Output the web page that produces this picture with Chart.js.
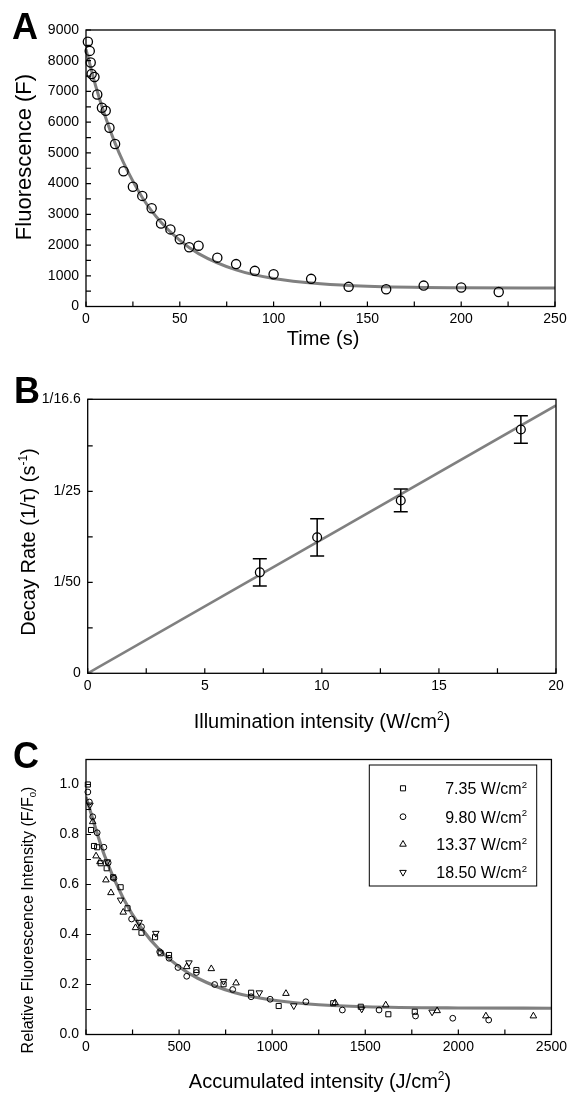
<!DOCTYPE html>
<html>
<head>
<meta charset="utf-8">
<script src="https://cdn.jsdelivr.net/npm/chart.js@4.4.1/dist/chart.umd.min.js"></script>
<style>
html,body{margin:0;padding:0;background:#fff;}
#wrap{position:relative;width:571px;height:1095px;background:#fff;}
#wrap canvas{position:absolute;left:0;top:0;}
</style>
</head>
<body>
<div id="wrap">
<canvas id="cA" width="571" height="1095"></canvas>
<canvas id="cB" width="571" height="1095"></canvas>
<canvas id="cC" width="571" height="1095"></canvas>
</div>
<script>
// ---------------- Panel A data ----------------
const aTime  = [1, 2, 2.5, 3, 4.5, 6, 8.5, 10.5, 12.5, 15.5, 20, 25, 30, 35, 40, 45, 50, 55, 60, 70, 80, 90, 100, 120, 140, 160, 180, 200, 220];
const aFluor = [8620, 8320, 7940, 7570, 7470, 6900, 6470, 6370, 5820, 5290, 4400, 3900, 3600, 3200, 2700, 2510, 2190, 1930, 1980, 1590, 1380, 1160, 1050, 900, 640, 560, 680, 620, 470];
const aFitTime  = [0, 5, 10, 15, 20, 30, 40, 50, 60, 80, 100, 125, 150, 200, 250];
const aFitFluor = [8370, 7210, 6230, 5390, 4680, 3550, 2740, 2150, 1720, 1190, 910, 740, 660, 610, 600];
const aXTitle = 'Time (s)';
const aYTitle = 'Fluorescence (F)';

// ---------------- Panel B data ----------------
const bIntensity = [7.35, 9.80, 13.37, 18.50];
const bRate      = [0.0222, 0.0299, 0.0380, 0.0536];
const bRateErr   = [0.0030, 0.0041, 0.0025, 0.0030];
const bFitX = [0, 20];
const bFitY = [0, 0.0589];
const bYTickValues = [0, 1/50, 1/25, 1/16.6];
const bYTickLabels = ['0', '1/50', '1/25', '1/16.6'];
const bYMinorTicks = [0.01, 0.03, 0.05];
const bXTitle = 'Illumination intensity (W/cm^{2})';
const bYTitle = 'Decay Rate (1/\u03c4) (s^{-1})';

// ---------------- Panel C data ----------------
const cLegendLabels = ['7.35 W/cm^{2}', '9.80 W/cm^{2}', '13.37 W/cm^{2}', '18.50 W/cm^{2}'];
const cSquareX = [10, 27, 43, 60, 79, 111, 146, 186, 223, 298, 371, 401, 446, 593, 739, 887, 1035, 1328, 1476, 1624, 1766];
const cSquareY = [1.00, 0.818, 0.754, 0.749, 0.685, 0.665, 0.629, 0.589, 0.505, 0.407, 0.389, 0.325, 0.318, 0.258, 0.201, 0.167, 0.114, 0.125, 0.111, 0.081, 0.091];
const cCircleX = [10, 18, 36, 60, 96, 119, 150, 245, 298, 396, 446, 494, 541, 593, 691, 788, 887, 989, 1181, 1377, 1574, 1770, 1970, 2163];
const cCircleY = [0.97, 0.93, 0.871, 0.807, 0.749, 0.687, 0.625, 0.462, 0.431, 0.331, 0.305, 0.268, 0.233, 0.248, 0.200, 0.180, 0.151, 0.141, 0.131, 0.098, 0.098, 0.074, 0.065, 0.058];
const cTriangleX = [36, 54, 75, 107, 134, 200, 266, 541, 673, 806, 1074, 1338, 1610, 1886, 2148, 2403];
const cTriangleY = [0.851, 0.714, 0.691, 0.618, 0.567, 0.489, 0.427, 0.271, 0.263, 0.206, 0.164, 0.127, 0.118, 0.095, 0.074, 0.074];
const cInvTriX = [21, 114, 186, 285, 375, 553, 739, 931, 1116, 1481, 1859];
const cInvTriY = [0.918, 0.691, 0.538, 0.449, 0.405, 0.287, 0.213, 0.167, 0.115, 0.102, 0.090];
const cFitX = [0, 100, 200, 300, 400, 500, 600, 800, 1000, 1250, 1500, 2000, 2500];
const cFitY = [0.950, 0.715, 0.545, 0.423, 0.335, 0.271, 0.225, 0.167, 0.138, 0.119, 0.111, 0.106, 0.105];
const cXTitle = 'Accumulated intensity (J/cm^{2})';
const cYTitle = 'Relative Fluorescence Intensity (F/F_{0})';

const panelLetters = ['A', 'B', 'C'];

// ---------------- helpers ----------------
const FONT = '"Liberation Sans", Arial, Helvetica, sans-serif';
const W = 571, H = 1095, XH = 40;

function pts(xs, ys) { return xs.map((x, i) => ({x: x, y: ys[i]})); }

function parseRich(str) {
  const out = [];
  const re = /(\^|_)\{([^}]*)\}/g;
  let last = 0, m;
  while ((m = re.exec(str)) !== null) {
    if (m.index > last) out.push({t: str.slice(last, m.index)});
    out.push({t: m[2], s: m[1] === '^' ? 'sup' : 'sub'});
    last = re.lastIndex;
  }
  if (last < str.length) out.push({t: str.slice(last)});
  return out;
}

function drawRich(ctx, str, x, y, size, align, rot) {
  const segs = parseRich(str);
  ctx.save();
  ctx.translate(x, y);
  if (rot) ctx.rotate(rot);
  ctx.textBaseline = 'alphabetic';
  ctx.textAlign = 'left';
  ctx.fillStyle = '#000';
  let total = 0;
  const parts = segs.map(s => {
    const sz = s.s ? size * 0.6 : size;
    ctx.font = sz + 'px ' + FONT;
    const w = ctx.measureText(s.t).width;
    total += w;
    return {t: s.t, sz: sz, w: w, dy: s.s === 'sup' ? -size * 0.42 : (s.s === 'sub' ? size * 0.18 : 0)};
  });
  let cx = align === 'center' ? -total / 2 : (align === 'right' ? -total : 0);
  parts.forEach(p => {
    ctx.font = p.sz + 'px ' + FONT;
    ctx.fillText(p.t, cx, p.dy);
    cx += p.w;
  });
  ctx.restore();
}

const decoPlugin = {
  id: 'deco',
  afterDatasetsDraw(chart, args, o) {
    if (!o.errors) return;
    const ctx = chart.ctx, xs = chart.scales.x, ys = chart.scales.y;
    ctx.save();
    ctx.strokeStyle = '#000';
    ctx.lineWidth = 1.5;
    ctx.beginPath();
    o.errors.x.forEach((xv, i) => {
      const px = xs.getPixelForValue(xv);
      const top = ys.getPixelForValue(o.errors.y[i] + o.errors.e[i]);
      const bot = ys.getPixelForValue(o.errors.y[i] - o.errors.e[i]);
      ctx.moveTo(px, top); ctx.lineTo(px, bot);
      ctx.moveTo(px - 7, top); ctx.lineTo(px + 7, top);
      ctx.moveTo(px - 7, bot); ctx.lineTo(px + 7, bot);
    });
    ctx.stroke();
    ctx.restore();
  },
  afterDraw(chart, args, o) {
    const ctx = chart.ctx, a = chart.chartArea;
    const xs = chart.scales.x, ys = chart.scales.y;
    ctx.save();
    ctx.strokeStyle = '#000';
    ctx.lineWidth = 1.3;
    ctx.strokeRect(a.left, a.top, a.right - a.left, a.bottom - a.top);
    ctx.lineWidth = 1.2;
    ctx.beginPath();
    xs.ticks.forEach(t => {
      const p = xs.getPixelForValue(t.value);
      ctx.moveTo(p, a.bottom); ctx.lineTo(p, a.bottom - 5);
    });
    const yv = ys.ticks.map(t => t.value).concat(o.yMinor || []);
    yv.forEach(v => {
      const p = ys.getPixelForValue(v);
      ctx.moveTo(a.left, p); ctx.lineTo(a.left + 5, p);
    });
    ctx.stroke();
    // titles
    drawRich(ctx, o.xTitle.text, o.xTitle.x, o.xTitle.y, o.xTitle.size, 'center', 0);
    drawRich(ctx, o.yTitle.text, o.yTitle.x, o.yTitle.y, o.yTitle.size, 'center', -Math.PI / 2);
    // panel letter
    ctx.fillStyle = '#000';
    ctx.font = 'bold 36px ' + FONT;
    ctx.textAlign = 'left';
    ctx.textBaseline = 'alphabetic';
    ctx.fillText(o.letter.text, o.letter.x, o.letter.y);
    // legend
    if (o.legend) {
      const L = o.legend;
      ctx.lineWidth = 1;
      ctx.strokeStyle = '#000';
      ctx.strokeRect(L.box[0], L.box[1], L.box[2] - L.box[0], L.box[3] - L.box[1]);
      chart.data.datasets.forEach((ds, i) => {
        if (!ds.label) return;
        const yy = L.rows[i];
        ctx.strokeStyle = '#000';
        ctx.fillStyle = 'rgba(0,0,0,0)';
        ctx.lineWidth = 1;
        Chart.helpers.drawPoint(ctx, {pointStyle: ds.pointStyle, radius: ds.pointRadius, rotation: ds.rotation || 0, borderWidth: 1}, L.markerX, yy);
        drawRich(ctx, ds.label, L.textRight, yy + 6, 16, 'right', 0);
      });
    }
    ctx.restore();
  }
};

function axis(kind, area, min, max, step, labelFn, extra) {
  return Object.assign({
    type: 'linear', min: min, max: max,
    ticks: {
      stepSize: step, autoSkip: false, maxRotation: 0, minRotation: 0,
      color: '#000', font: {family: FONT, size: 14},
      padding: kind === 'x' ? 4 : 7,
      callback: (v) => labelFn(v)
    },
    grid: {display: false, drawTicks: false},
    border: {display: false},
    afterFit: kind === 'x' ? (s) => { s.height = XH; } : (s) => { s.width = area.left; }
  }, extra || {});
}

function baseOptions(area, scales, deco) {
  return {
    responsive: false, devicePixelRatio: 1, animation: false, events: [],
    layout: {padding: {left: 0, top: area.top, right: W - area.right, bottom: H - area.bottom - XH}},
    plugins: {legend: {display: false}, tooltip: {enabled: false}, deco: deco},
    scales: scales
  };
}

// ---------------- Chart A ----------------
const areaA = {left: 86, top: 30, right: 555, bottom: 306.5};
new Chart(document.getElementById('cA'), {
  type: 'scatter',
  data: {datasets: [
    {data: pts(aTime, aFluor), pointStyle: 'circle', pointRadius: 4.6, borderColor: '#000', backgroundColor: 'rgba(0,0,0,0)', borderWidth: 1.3, showLine: false, clip: false},
    {data: pts(aFitTime, aFitFluor), showLine: true, borderColor: '#808080', borderWidth: 3, pointRadius: 0, cubicInterpolationMode: 'monotone', fill: false}
  ]},
  options: baseOptions(areaA, {
    x: axis('x', areaA, 0, 250, 25, v => (v % 50 === 0 ? String(v) : '')),
    y: axis('y', areaA, 0, 9000, 500, v => (v % 1000 === 0 ? String(v) : ''))
  }, {
    xTitle: {text: aXTitle, x: 323, y: 345, size: 20},
    yTitle: {text: aYTitle, x: 31, y: 157, size: 22},
    letter: {text: panelLetters[0], x: 12, y: 39}
  }),
  plugins: [decoPlugin]
});

// ---------------- Chart B ----------------
const areaB = {left: 87.7, top: 399.3, right: 556, bottom: 673.3};
new Chart(document.getElementById('cB'), {
  type: 'scatter',
  data: {datasets: [
    {data: pts(bIntensity, bRate), pointStyle: 'circle', pointRadius: 4.4, borderColor: '#000', backgroundColor: '#fff', borderWidth: 1.3, showLine: false, clip: false},
    {data: pts(bFitX, bFitY), showLine: true, borderColor: '#808080', borderWidth: 2.6, pointRadius: 0, fill: false}
  ]},
  options: baseOptions(areaB, {
    x: axis('x', areaB, 0, 20, 2.5, v => (v % 5 === 0 ? String(v) : '')),
    y: axis('y', areaB, 0, 1/16.6, 0.01, v => {
      const i = bYTickValues.findIndex(t => Math.abs(t - v) < 1e-6);
      return i >= 0 ? bYTickLabels[i] : '';
    }, {
      afterBuildTicks: (s) => { s.ticks = bYTickValues.map(v => ({value: v})); }
    })
  }, {
    xTitle: {text: bXTitle, x: 322, y: 728, size: 20},
    yTitle: {text: bYTitle, x: 35, y: 542, size: 20},
    yMinor: bYMinorTicks,
    letter: {text: panelLetters[1], x: 14, y: 403},
    errors: {x: bIntensity, y: bRate, e: bRateErr}
  }),
  plugins: [decoPlugin]
});

// ---------------- Chart C ----------------
const areaC = {left: 86, top: 759.5, right: 555, bottom: 1034.5};
const mk = {borderColor: '#000', backgroundColor: 'rgba(0,0,0,0)', borderWidth: 1, showLine: false, clip: false};
new Chart(document.getElementById('cC'), {
  type: 'scatter',
  data: {datasets: [
    Object.assign({label: cLegendLabels[0], data: pts(cSquareX, cSquareY), pointStyle: 'rect', pointRadius: 3.6}, mk),
    Object.assign({label: cLegendLabels[1], data: pts(cCircleX, cCircleY), pointStyle: 'circle', pointRadius: 2.9}, mk),
    Object.assign({label: cLegendLabels[2], data: pts(cTriangleX, cTriangleY), pointStyle: 'triangle', pointRadius: 3.8}, mk),
    Object.assign({label: cLegendLabels[3], data: pts(cInvTriX, cInvTriY), pointStyle: 'triangle', pointRadius: 3.8, rotation: 180, pointRotation: 180}, mk),
    {data: pts(cFitX, cFitY), showLine: true, borderColor: '#808080', borderWidth: 3.2, pointRadius: 0, cubicInterpolationMode: 'monotone', fill: false}
  ]},
  options: baseOptions(areaC, {
    x: axis('x', areaC, 0, 2500, 250, v => (v % 500 === 0 ? String(v) : '')),
    y: axis('y', areaC, 0, 1.1, 0.1, v => {
      const k = Math.round(v * 10);
      return (k % 2 === 0 && k <= 10) ? (k / 10).toFixed(1) : '';
    })
  }, {
    xTitle: {text: cXTitle, x: 320, y: 1088, size: 20},
    yTitle: {text: cYTitle, x: 33, y: 920, size: 16},
    letter: {text: panelLetters[2], x: 13, y: 768},
    legend: {box: [369.3, 765, 536.7, 886], rows: [788.3, 816.7, 844.3, 872.3], markerX: 403, textRight: 527}
  }),
  plugins: [decoPlugin]
});
</script>
</body>
</html>
